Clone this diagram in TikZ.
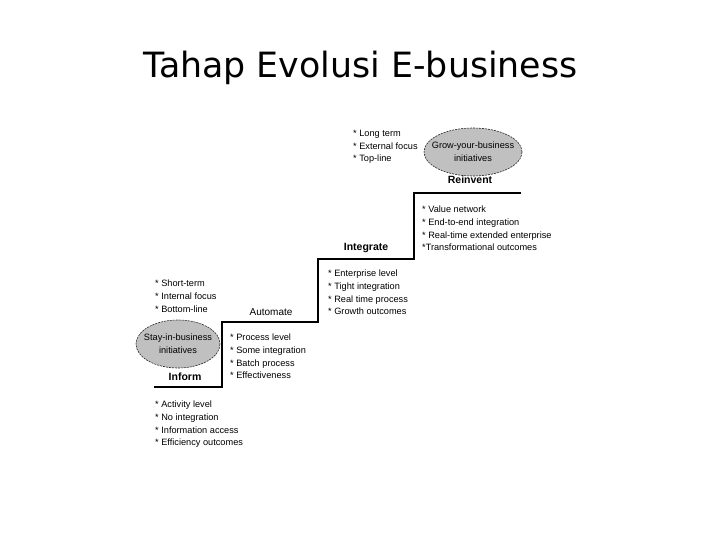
\documentclass[tikz,border=0pt]{standalone}
\usepackage{fontspec}
\setmainfont{Liberation Sans}
\newfontfamily\titlefont{DejaVu Sans}
\definecolor{goalgray}{HTML}{C0C0C0}

\begin{document}
\begin{tikzpicture}[x=1pt, y=-1pt]
  \tikzstyle{every node}=[font=\fontsize{9.2}{12.7}\selectfont, inner sep=0pt]
  \tikzstyle{bullets}=[anchor=north west, align=left]
  \tikzstyle{stage}=[anchor=base, font=\fontsize{10.5}{12}\selectfont\bfseries]
  \tikzstyle{goal}=[draw=black!85, fill=goalgray, line width=0.6pt, dash pattern=on 2pt off 1pt]
  \useasboundingbox (0, 0) rectangle (720, 540);

  \node[anchor=base] (title) at (360.5, 78) {\titlefont\fontsize{34.8}{40}\selectfont Tahap Evolusi E-business};

  % staircase
  \draw[line width=2pt] (154, 387) -- (222, 387) -- (222, 322) -- (318, 322)
    -- (318, 259) -- (414, 259) -- (414, 193) -- (521, 193);

  \path[goal] (473, 152) coordinate (growc) ellipse (49 and 24);
    \node[align=center] (grow) at (growc) {Grow-your-business\\initiatives};
  \path[goal] (178, 344) coordinate (stayc) ellipse (42 and 24);
    \node[align=center] (stay) at (stayc) {Stay-in-business\\initiatives};

  \node[stage] (reinvent) at (470, 184) {Reinvent};
  \node[stage] (integrate) at (366, 250) {Integrate};
  \node[stage, font=\fontsize{10}{12}\selectfont] (automate) at (271, 315) {Automate};
  \node[stage] (inform) at (185, 380) {Inform};

  \node[bullets] (growlist) at (353, 130) {* Long term\\* External focus\\* Top-line};
  \node[bullets] (reinventlist) at (422, 206) {* Value network\\* End-to-end integration\\* Real-time extended enterprise\\*Transformational outcomes};
  \node[bullets] (integratelist) at (328, 270) {* Enterprise level\\* Tight integration\\* Real time process\\* Growth outcomes};
  \node[bullets] (automatelist) at (230, 334) {* Process level\\* Some integration\\* Batch process\\* Effectiveness};
  \node[bullets] (staylist) at (155, 280) {* Short-term\\* Internal focus\\* Bottom-line};
  \node[bullets] (informlist) at (155, 401) {* Activity level\\* No integration\\* Information access\\* Efficiency outcomes};
\end{tikzpicture}
\end{document}
